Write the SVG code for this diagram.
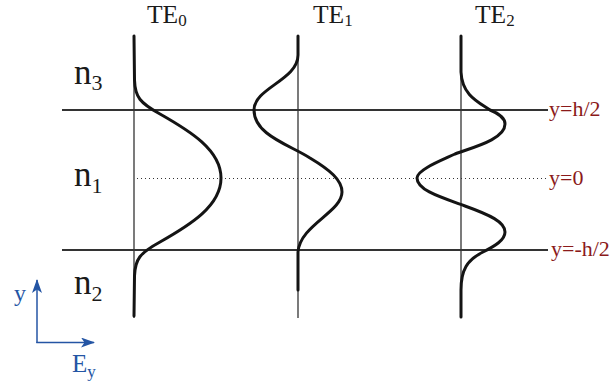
<svg xmlns="http://www.w3.org/2000/svg" width="610" height="385" viewBox="0 0 610 385">
<style>
.ser{font-family:"Liberation Serif","DejaVu Serif",serif;}
.blk{fill:#1a1a1a;}
.red{fill:#8b1a1a;}
.blu{fill:#2455a4;}
.bound{stroke:#333;stroke-width:2.2;fill:none;}
.axis{stroke:#333;stroke-width:1.3;fill:none;}
.dot{stroke:#333;stroke-width:1.2;stroke-dasharray:1 3;fill:none;}
.mode{stroke:#141414;stroke-width:3;fill:none;stroke-linecap:round;stroke-linejoin:round;}
.arr{stroke:#2455a4;stroke-width:1.5;fill:none;}
</style>
<defs>
<marker id="ah" markerUnits="userSpaceOnUse" markerWidth="16" markerHeight="12" refX="13" refY="5" orient="auto">
<path d="M0,0 L14,5 L0,10 L3.5,5 Z" fill="#2455a4"/>
</marker>
</defs>

<g id="boundaries">
<line class="bound" x1="62" y1="110" x2="548" y2="110"/>
<line class="bound" x1="62" y1="250" x2="548" y2="250"/>
<line class="dot" x1="137" y1="178.5" x2="546" y2="178.5"/>
</g>

<g id="axes">
<line class="axis" x1="134" y1="35" x2="134" y2="318"/>
<line class="axis" x1="298" y1="35" x2="298" y2="318"/>
<line class="axis" x1="461" y1="35" x2="461" y2="318"/>
</g>

<g id="TE0">
<path class="mode" d="M134,36 L134.5,80 C135,97 140,103 160,114 C190,131 221,150 221,178 C221,206 190,225 160,242 C140,253 135,259 134.5,276 L134,316"/>
<text class="ser blk" x="147" y="23" font-size="25.5">TE<tspan font-size="17" dy="3">0</tspan></text>
</g>

<g id="TE1">
<path class="mode" d="M298,36 L298,55 C298,80 254,88 254,110 C254,135 290,145 310,158 C330,170 342,180 342,192 C342,212 300,225 298,252 L298,290"/>
<text class="ser blk" x="313" y="23" font-size="25.5">TE<tspan font-size="17" dy="3">1</tspan></text>
</g>

<g id="TE2">
<path class="mode" d="M461,36 L461,72 C462,95 478,102 490,110 C500,114 505,118 505,124 C505,140 470,148 455,154 C440,161 417,170 417,178 C417,190 440,197 465,206 C490,215 505,222 505,232 C505,240 495,246 483,252 C467,260 461,270 461,290 L461,317"/>
<text class="ser blk" x="475" y="23" font-size="25.5">TE<tspan font-size="17" dy="3">2</tspan></text>
</g>

<g id="indices">
<text class="ser blk" x="74" y="84" font-size="35">n<tspan font-size="22" dy="6">3</tspan></text>
<text class="ser blk" x="74" y="186" font-size="35">n<tspan font-size="22" dy="7">1</tspan></text>
<text class="ser blk" x="74" y="294" font-size="35">n<tspan font-size="22" dy="7">2</tspan></text>
</g>

<g id="positions">
<text class="ser red" x="549" y="116" font-size="22">y=h/2</text>
<text class="ser red" x="549" y="185" font-size="22">y=0</text>
<text class="ser red" x="551" y="256" font-size="22">y=-h/2</text>
</g>

<g id="coords">
<line class="arr" x1="37" y1="343" x2="37" y2="280" marker-end="url(#ah)"/>
<line class="arr" x1="36.3" y1="342.5" x2="94" y2="342.5" marker-end="url(#ah)"/>
<text class="ser blu" x="14" y="301" font-size="24">y</text>
<text class="ser blu" x="72" y="372" font-size="25">E<tspan font-size="17" dy="5">y</tspan></text>
</g>
</svg>
